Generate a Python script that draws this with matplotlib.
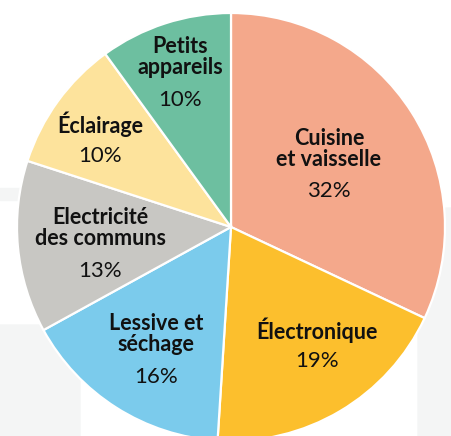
import matplotlib.pyplot as plt
from matplotlib.patches import FancyBboxPatch, Rectangle

labels = ['Cuisine\net vaisselle', 'Électronique', 'Lessive et\nséchage',
          'Electricité\ndes communs', 'Éclairage', 'Petits\nappareils']
shares = [32, 19, 16, 13, 10, 10]
colors = ['#F4A88B', '#FCBF2D', '#7BCBEC', '#C8C7C3', '#FDE39C', '#6DBFA0']

# label anchor points in image pixels (name centre, percentage centre)
name_px = [(329, 149), (317, 330), (156, 334), (100, 228), (100, 124), (180, 57)]
pct_px = [(329, 191), (317, 361), (156, 377), (100, 271), (100, 156), (180, 100)]

W, H = 452, 436
cx, cy, R = 231, 227, 214

def to_data(p):
    return (p[0] - cx) / R, (cy - p[1]) / R

fig = plt.figure(figsize=(W / 100, H / 100), dpi=100)
ax = fig.add_axes([0, 0, 1, 1])

ax.pie(shares, colors=colors, startangle=90, counterclock=False, radius=1,
       wedgeprops=dict(edgecolor='white', linewidth=1.6))

ax.set_xlim(-cx / R, (W - cx) / R)
ax.set_ylim(-(H - cy) / R, cy / R)
ax.set_aspect('auto')
ax.axis('off')

# faint watermark shapes in the background
bg = '#F4F5F5'
ax.add_patch(FancyBboxPatch(to_data((-40, 460)), 120 / R, 135 / R,
                            boxstyle='round,pad=0,rounding_size=0.1',
                            color=bg, zorder=-1))
ax.add_patch(FancyBboxPatch(to_data((418, 470)), 80 / R, 262 / R,
                            boxstyle='round,pad=0,rounding_size=0.15',
                            color=bg, zorder=-1))
ax.add_patch(Rectangle(to_data((0, 200)), 40 / R, 12 / R, color=bg, zorder=-1))

for lab, p1, p2, v in zip(labels, name_px, pct_px, shares):
    x, y = to_data(p1)
    ax.text(x, y, lab, ha='center', va='center', fontsize=15.5,
            fontweight='bold', family='Lato', color='#111111', linespacing=1.05)
    x, y = to_data(p2)
    ax.text(x, y, f'{v}%', ha='center', va='center', fontsize=16,
            fontweight='normal', family='Lato', color='#111111')

fig.savefig('out.png', dpi=100, facecolor='white')
